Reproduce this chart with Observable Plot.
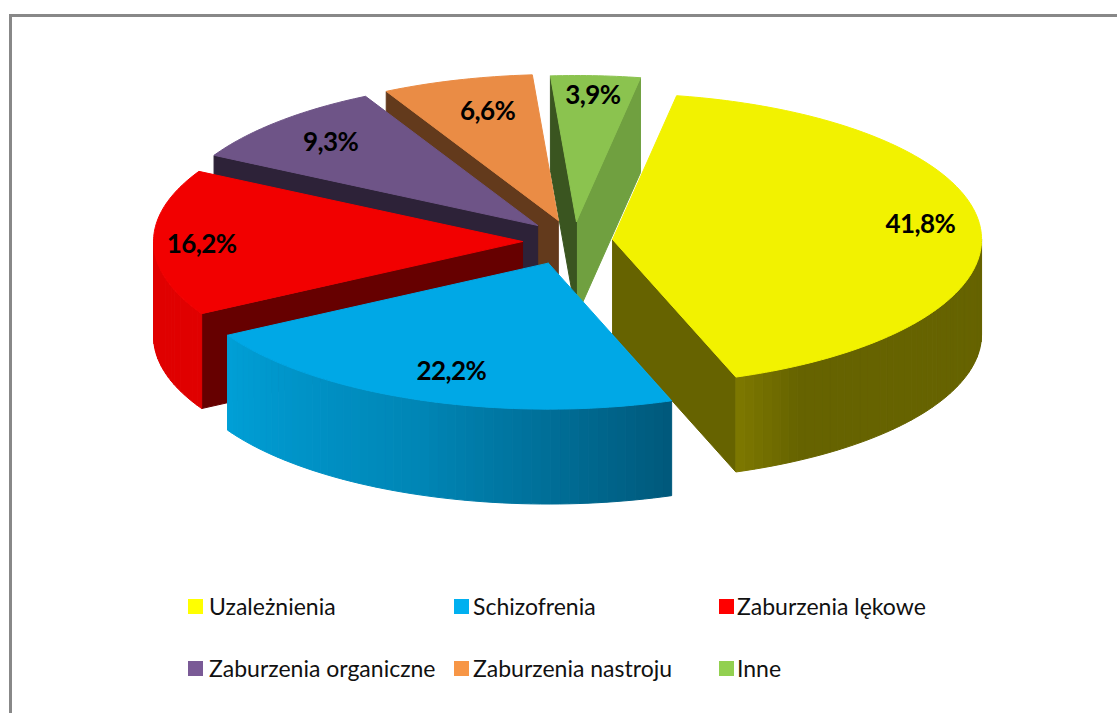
<!DOCTYPE html>
<html lang="pl">
<head>
<meta charset="utf-8">
<script src="https://cdn.jsdelivr.net/npm/d3@7"></script>
<script src="https://cdn.jsdelivr.net/npm/@observablehq/plot@0.6"></script>
<style>
  html, body { margin: 0; padding: 0; background: #fff; overflow: hidden; }
  #page { position: relative; width: 1117px; height: 713px; }
  #frame { position: absolute; left: 9px; top: 14px; right: 0; bottom: 0; border-top: 3px solid #888; border-left: 3px solid #888; pointer-events: none; }
  #legend { position: absolute; left: 0; top: 585px; width: 1117px; height: 128px; font-family: Lato, sans-serif; font-size: 23px; color: #111; }
  .item { position: absolute; display: flex; align-items: center; height: 30px; white-space: nowrap; }
  .sw { width: 15px; height: 15px; flex: none; }
</style>
</head>
<body>
<div id="page">
  <div id="chart"></div>
  <div id="legend"></div>
  <div id="frame"></div>
</div>
<script>
// ---- data
const categories = ["Uzależnienia", "Schizofrenia", "Zaburzenia lękowe", "Zaburzenia organiczne", "Zaburzenia nastroju", "Inne"];
const values = [41.8, 22.2, 16.2, 9.3, 6.6, 3.9];

// ---- styles
const topColors = ["#f2f200", "#00a8e6", "#f20000", "#6e5487", "#ea8c45", "#8bc34f"];
const legendColors = ["#ffff00", "#00b0f0", "#ff0000", "#7a5a96", "#f79646", "#92d050"];
const radialWallColors = ["#666300", null, "#660000", "#2d2238", "#633a1c", "#3a5520"];
const greenFarWall = "#70a040";
const rimStops = [
  [[160, "#7d7800"], [150, "#666300"], [90, "#666300"]],
  [[240, "#009fd6"], [200, "#0085b5"], [160, "#00587a"]],
  [[270, "#e00000"], [240, "#e00000"]]
];
// pie geometry, in radii of the pie: how far each slice is pulled out, where its label sits
const explode = [[0.114, -0.007], [-0.06, 0.155], [-0.13, 0.007], [-0.089, -0.103], [-0.033, -0.137], [0.016, -0.13]];
const labelRadius = [0.84, 0.79, 0.87, 0.8, 0.77, 0.86];
const labelTurn = [-2, -1, -1, 0, 1.5, 0];
const wallDepth = 0.65;
const firstSliceDegrees = 10;
const drawOrder = [5, 4, 3, 2, 0, 1];
const legendColumns = [188, 454, 719];
const legendGaps = [6, 4, 3];
const legendRows = [6, 68];

// ---- pie layout
const rad = (d) => d * Math.PI / 180;
const deg = (r) => r * 180 / Math.PI;
const arcs = d3.pie().sort(null)
  .startAngle(rad(firstSliceDegrees))
  .endAngle(rad(firstSliceDegrees + 360))(values);

const at = (i, t, r, depth = 0) => ({
  x: explode[i][0] + r * Math.sin(t),
  y: explode[i][1] - r * Math.cos(t) + depth
});

const rows = [];
let pid = 0;
const poly = (pts, fill) => { pid++; for (const p of [...pts, pts[0]]) rows.push({ id: pid, x: p.x, y: p.y, fill }); };
const radialWall = (i, t, fill) =>
  poly([at(i, t, 0), at(i, t, 1), at(i, t, 1, wallDepth), at(i, t, 0, wallDepth)], fill);

function rimColor(i, degrees) {
  const stops = rimStops[i];
  const s = d3.scaleLinear().domain(stops.map((d) => d[0])).range(stops.map((d) => d[1])).clamp(true);
  return d3.color(s(degrees)).formatHex();
}
function rimWall(i, from, to) {
  const step = (to - from) / Math.ceil(Math.abs(to - from) / 1.5);
  for (let a = from; a < to - 1e-6; a += step) {
    const c = rimColor(i, a + step / 2);
    poly([at(i, rad(a), 1), at(i, rad(a + step), 1), at(i, rad(a + step), 1, wallDepth), at(i, rad(a), 1, wallDepth)], c);
  }
}
function topFace(i) {
  const { startAngle: a0, endAngle: a1 } = arcs[i];
  const n = Math.ceil(deg(a1 - a0));
  const pts = [at(i, a0, 0)];
  for (let k = 0; k <= n; k++) pts.push(at(i, a0 + (a1 - a0) * k / n, 1));
  poly(pts, topColors[i]);
}

for (const i of drawOrder) {
  const a = arcs[i];
  const d0 = deg(a.startAngle), d1 = deg(a.endAngle);
  if (i === 5) { radialWall(i, a.endAngle, greenFarWall); radialWall(i, a.startAngle, radialWallColors[i]); }
  if (i === 0) { radialWall(i, a.endAngle, radialWallColors[i]); rimWall(i, 90, d1); }
  if (i === 1) rimWall(i, d0, d1);
  if (i === 2) { radialWall(i, a.startAngle, radialWallColors[i]); rimWall(i, d0, 270); }
  if (i === 3 || i === 4) radialWall(i, a.startAngle, radialWallColors[i]);
  topFace(i);
}

const labels = values.map((v, i) => {
  const mid = (arcs[i].startAngle + arcs[i].endAngle) / 2 + rad(labelTurn[i]);
  const p = at(i, mid, labelRadius[i]);
  return { x: p.x, y: p.y, text: v.toFixed(1).replace(".", ",") + "%" };
});

// ---- chart
const W = 1117, H = 585, RX = 369, RY = 146, CX = 570, CY = 240;
const chart = Plot.plot({
  width: W, height: H, margin: 0,
  style: { background: "transparent", letterSpacing: "-0.6px" },
  x: { domain: [-CX / RX, (W - CX) / RX], range: [0, W], axis: null },
  y: { domain: [-CY / RY, (H - CY) / RY], range: [0, H], axis: null },
  marks: [
    Plot.line(rows, { x: "x", y: "y", z: "id", fill: "fill", stroke: "fill", strokeWidth: 1, curve: "linear" }),
    Plot.text(labels, { x: "x", y: "y", text: "text", fontFamily: "Lato, sans-serif", fontWeight: 700, fontSize: 26, fill: "#000" })
  ]
});
document.getElementById("chart").appendChild(chart);

// ---- legend
const legend = d3.select("#legend");
categories.forEach((c, i) => {
  const item = legend.append("div").attr("class", "item")
    .style("left", legendColumns[i % 3] + "px")
    .style("top", legendRows[Math.floor(i / 3)] + "px");
  item.append("span").attr("class", "sw")
    .style("background", legendColors[i])
    .style("margin-right", legendGaps[i % 3] + "px");
  item.append("span").text(c);
});
</script>
</body>
</html>
